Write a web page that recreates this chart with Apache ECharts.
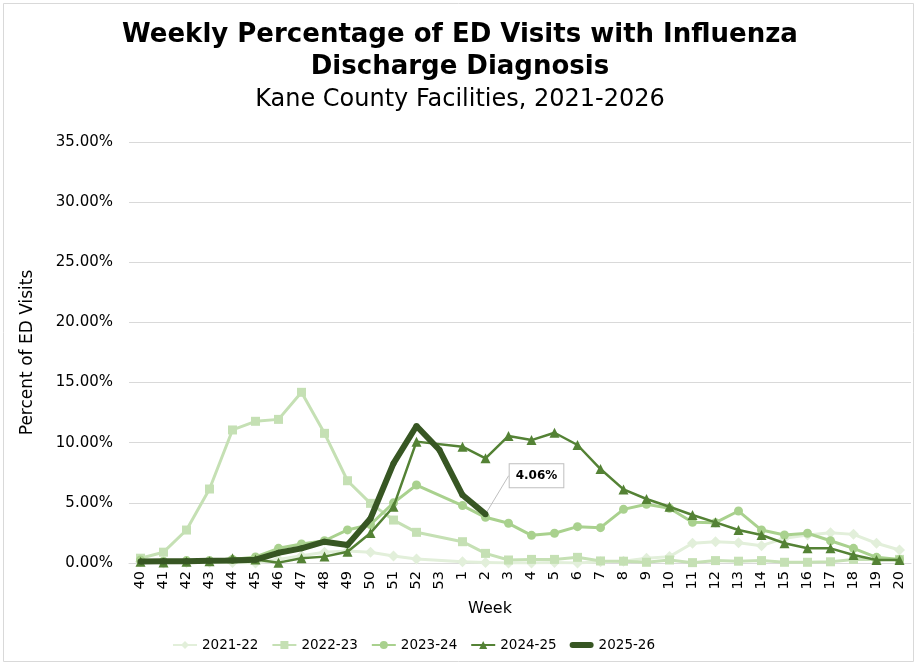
<!DOCTYPE html>
<html>
<head>
<meta charset="utf-8">
<script src="https://cdn.jsdelivr.net/npm/echarts@6/dist/echarts.min.js"></script>
<style>
html,body{margin:0;padding:0;background:#fff;}
#c{width:920px;height:665px;}
</style>
</head>
<body>
<div id="c"></div>
<script>
var weeks = ['40','41','42','43','44','45','46','47','48','49','50','51','52','53','1','2','3','4','5','6','7','8','9','10','11','12','13','14','15','16','17','18','19','20'];
var yTicks = [0,5,10,15,20,25,30,35];
var s2122 = [0.1,0.0,0.05,0.05,0.05,0.0,0.3,0.6,0.9,1.0,0.9,0.58,0.33,null,0.1,0.05,0.0,0.0,0.05,0.0,0.1,0.15,0.39,0.53,1.64,1.77,1.69,1.44,2.05,2.33,2.52,2.38,1.64,1.08];
var s2223 = [0.4,0.9,2.74,6.15,11.06,11.78,11.94,14.19,10.78,6.84,4.96,3.57,2.55,null,1.77,0.8,0.25,0.3,0.3,0.47,0.17,0.15,0.06,0.25,0.03,0.2,0.15,0.2,0.06,0.06,0.1,0.3,0.3,0.3];
var s2324 = [0.25,0.15,0.2,0.2,0.3,0.5,1.22,1.58,1.85,2.75,3.2,5.0,6.48,null,4.77,3.8,3.3,2.3,2.47,3.02,2.94,4.46,4.88,4.55,3.38,3.35,4.32,2.74,2.33,2.47,1.85,1.22,0.47,0.3];
var s2425 = [0.1,0.05,0.1,0.15,0.39,0.3,0.03,0.39,0.53,0.94,2.5,4.68,10.09,null,9.67,8.7,10.56,10.22,10.83,9.81,7.81,6.12,5.32,4.68,3.99,3.38,2.74,2.33,1.64,1.22,1.22,0.66,0.25,0.25];
var s2526 = [0.12,0.15,0.15,0.18,0.2,0.28,0.85,1.22,1.77,1.5,3.7,8.28,11.39,9.39,5.65,4.06];
var seasonNames = ['2021-22','2022-23','2023-24','2024-25','2025-26'];
var labelIndex = 15;

var font = 'DejaVu Sans';
var chart = echarts.init(document.getElementById('c'), null, {renderer:'canvas'});

function mk(name, data, color, symbol, size, width, z){
  return {
    name: name, type: 'line', data: data, connectNulls: true,
    symbol: symbol, symbolSize: size, showSymbol: true,
    lineStyle: {color: color, width: width},
    itemStyle: {color: color},
    z: z, animation: false, emphasis: {disabled: true}
  };
}

var last = s2526.map(function(v, i){
  if (i === labelIndex) {
    return {value: v, label: {show: true}};
  }
  return v;
});

var series = [
  mk(seasonNames[0], s2122, '#e2efda', 'diamond', 11, 3, 2),
  mk(seasonNames[1], s2223, '#c5e0b4', 'rect', 9, 3, 3),
  mk(seasonNames[2], s2324, '#a9d18e', 'circle', 9, 3, 4),
  mk(seasonNames[3], s2425, '#548235', 'triangle', 10, 2.5, 5),
  mk(seasonNames[4], last, '#375623', 'circle', 6, 6, 6)
];
series[4].label = {
  show: false, position: 'top', distance: 5,
  formatter: function(p){ return p.value.toFixed(2) + '%'; },
  fontFamily: font, fontWeight: 'bold', fontSize: 12, color: '#000',
  backgroundColor: '#fff', borderColor: '#bfbfbf', borderWidth: 1, padding: [6,6,5,6]
};
series[4].labelLayout = {dx: 51, dy: -19};
series[4].labelLine = {show: true, lineStyle: {color: '#bfbfbf', width: 1}};

var legendData = seasonNames.map(function(n, i){
  if (i === 4) {
    return {name: n, icon: 'path://M3,0 L21,0 A3,3 0 0 1 21,6 L3,6 A3,3 0 0 1 3,0 Z'};
  }
  return {name: n};
});

chart.setOption({
  backgroundColor: '#fff',
  animation: false,
  title: [
    {text: 'Weekly Percentage of ED Visits with Influenza\nDischarge Diagnosis', left: 'center', top: 14,
     textStyle: {fontFamily: font, fontWeight: 'bold', fontSize: 26, color: '#000', lineHeight: 32}},
    {text: 'Kane County Facilities, 2021-2026', left: 'center', top: 83,
     textStyle: {fontFamily: font, fontWeight: 'normal', fontSize: 24, color: '#000'}}
  ],
  graphic: [
    {type: 'rect', shape: {x: 3.5, y: 3.5, width: 910, height: 658}, style: {fill: 'none', stroke: '#d9d9d9', lineWidth: 1}, silent: true, z: -1}
  ],
  legend: {
    left: 167, top: 633, itemWidth: 24, itemHeight: 10, itemGap: 13,
    textStyle: {fontFamily: font, fontSize: 13.5, color: '#000'},
    data: legendData
  },
  grid: {left: 129, right: 9, top: 142, bottom: 102, containLabel: false},
  xAxis: {
    type: 'category', data: weeks, boundaryGap: true,
    name: 'Week', nameLocation: 'middle', nameGap: 38,
    nameTextStyle: {fontFamily: font, fontSize: 16, color: '#000', padding: [0,60,0,0]},
    axisLine: {show: true, lineStyle: {color: '#d9d9d9', width: 1}},
    axisTick: {show: false},
    axisLabel: {rotate: 90, interval: 0, fontFamily: font, fontSize: 14.5, color: '#000', margin: 8}
  },
  yAxis: {
    type: 'value', min: 0, max: 35, interval: 5,
    name: 'Percent of ED Visits', nameLocation: 'middle', nameGap: 93,
    nameTextStyle: {fontFamily: font, fontSize: 17, color: '#000'},
    axisLine: {show: false}, axisTick: {show: false},
    splitLine: {lineStyle: {color: '#d9d9d9', width: 1}},
    axisLabel: {fontFamily: font, fontSize: 15, color: '#000', margin: 16,
      formatter: function(v){ return v.toFixed(2) + '%'; }}
  },
  series: series
});
</script>
</body>
</html>
